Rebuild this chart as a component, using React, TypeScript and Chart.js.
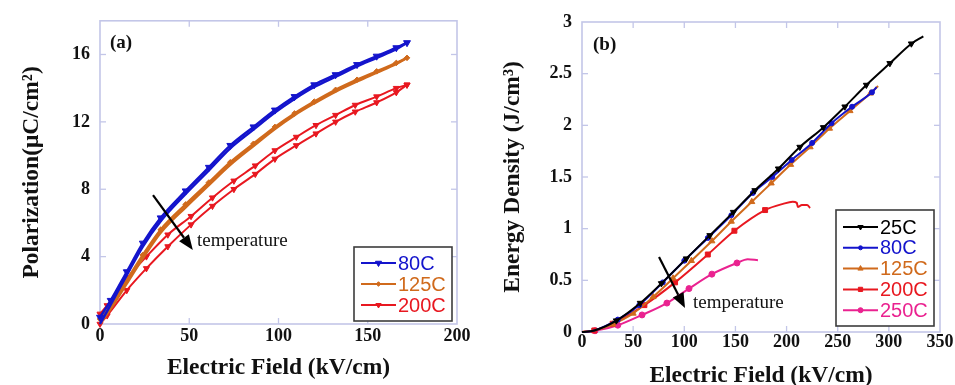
import React, { useEffect, useRef } from "react";
import { Chart, registerables } from "chart.js";
import { drawPoint } from "chart.js/helpers";

Chart.register(...registerables);

const SERIF = '"Liberation Serif", "Times New Roman", serif';
const SANS = '"Liberation Sans", Arial, sans-serif';
const FRAME = "#c3c6e8";

const BLUE = "#1414cc";
const ORANGE = "#d06a1c";
const RED = "#e81820";
const BLACK = "#000000";
const PINK = "#ea2290";

// ---------- Panel (a): Polarization vs Electric Field ----------
const A_X_TICKS = [0, 50, 100, 150, 200];
const A_Y_TICKS = [0, 4, 8, 12, 16];

const A80_E = [0, 6, 15, 24, 34, 48, 61, 73, 86, 98, 109, 120, 132, 144, 155, 166, 172];
const A80_UP = [0.4, 1.4, 3.1, 4.8, 6.3, 7.9, 9.3, 10.6, 11.7, 12.7, 13.5, 14.2, 14.8, 15.4, 15.9, 16.4, 16.7];
const A80_DOWN = [0.0, 1.15, 2.9, 4.6, 6.1, 7.72, 9.12, 10.43, 11.54, 12.55, 13.36, 14.07, 14.68, 15.29, 15.8, 16.32, 16.7];

const A125_E = [0, 6, 15, 24, 34, 48, 61, 73, 86, 98, 109, 120, 132, 144, 155, 166, 172];
const A125_UP = [0.3, 1.1, 2.6, 4.1, 5.6, 7.1, 8.4, 9.6, 10.7, 11.7, 12.5, 13.2, 13.9, 14.5, 15.0, 15.5, 15.8];
const A125_DOWN = [0.0, 0.9, 2.4, 3.9, 5.42, 6.93, 8.25, 9.45, 10.57, 11.58, 12.4, 13.1, 13.8, 14.4, 14.92, 15.44, 15.8];

const A200_E = [0, 4, 15, 26, 38, 51, 63, 75, 87, 98, 110, 121, 132, 143, 155, 166, 172];
const A200_UP = [0.6, 1.1, 2.7, 4.0, 5.3, 6.4, 7.5, 8.5, 9.4, 10.3, 11.1, 11.8, 12.4, 13.0, 13.5, 14.0, 14.2];
const A200_DOWN = [0.0, 0.5, 2.0, 3.3, 4.6, 5.9, 7.0, 8.0, 8.9, 9.8, 10.6, 11.3, 12.0, 12.6, 13.15, 13.75, 14.2];

// ---------- Panel (b): Energy Density vs Electric Field ----------
const B_X_TICKS = [0, 50, 100, 150, 200, 250, 300, 350];
const B_Y_TICKS = [0, 0.5, 1, 1.5, 2, 2.5, 3];

const B25_E = [0, 12, 33.6, 57, 77.6, 102, 125, 148, 169, 192, 213, 236, 257, 278, 301, 322, 333.7];
const B25_W = [0, 0.015, 0.11, 0.28, 0.47, 0.71, 0.935, 1.16, 1.37, 1.58, 1.79, 1.98, 2.18, 2.39, 2.6, 2.79, 2.86];

const B80_E = [0, 12, 35, 56, 79, 100, 123, 146, 167, 186, 205, 225, 244, 264, 283.5, 288];
const B80_W = [0, 0.015, 0.12, 0.26, 0.48, 0.69, 0.91, 1.13, 1.345, 1.5, 1.665, 1.83, 2.02, 2.18, 2.32, 2.37];

const B125_E = [0, 12, 30, 50, 69.5, 89, 107, 127, 146, 166, 185, 204, 223, 242, 262, 282, 289.5];
const B125_W = [0, 0.015, 0.075, 0.18, 0.34, 0.52, 0.69, 0.88, 1.07, 1.26, 1.44, 1.62, 1.79, 1.97, 2.14, 2.31, 2.38];

const B200_E = [0, 12, 30, 61, 91, 123, 149, 179];
const B200_W = [0, 0.015, 0.08, 0.26, 0.48, 0.75, 0.98, 1.18];
const B200_TAIL_E = [196.5, 206, 210, 211, 215, 220, 223];
const B200_TAIL_W = [1.24, 1.26, 1.25, 1.21, 1.23, 1.23, 1.2];

const B250_E = [0, 12.7, 35, 58.7, 83, 104.6, 127, 151.5];
const B250_W = [0, 0.012, 0.066, 0.165, 0.28, 0.42, 0.56, 0.668];
const B250_TAIL_E = [162, 172];
const B250_TAIL_W = [0.705, 0.695];

// ---------- helpers ----------
type Mk = { style: string; rot?: number; r: number };

function series(
  label: string,
  xs: number[],
  ys: number[],
  color: string,
  mk: Mk,
  lineWidth = 2,
  markerFlags?: boolean[]
) {
  return {
    label,
    data: xs.map((x, i) => ({ x, y: ys[i] })),
    showLine: true,
    borderColor: color,
    backgroundColor: color,
    borderWidth: lineWidth,
    cubicInterpolationMode: "monotone",
    pointStyle: mk.style,
    pointRotation: mk.rot || 0,
    pointRadius: markerFlags ? markerFlags.map((f) => (f ? mk.r : 0)) : mk.r,
    pointBackgroundColor: color,
    pointBorderColor: color,
    pointBorderWidth: 1,
    legendRadius: Math.max(2, mk.r - 0.5),
    clip: 6,
  };
}

const framePlugin = {
  id: "frame",
  beforeDatasetsDraw(chart: any) {
    const { ctx, chartArea, scales } = chart;
    const { left, right, top, bottom } = chartArea;
    ctx.save();
    ctx.strokeStyle = FRAME;
    ctx.lineWidth = 1.6;
    ctx.strokeRect(left, top, right - left, bottom - top);
    ctx.lineWidth = 1.3;
    const L = 6;
    const line = (x1: number, y1: number, x2: number, y2: number) => {
      ctx.beginPath();
      ctx.moveTo(x1, y1);
      ctx.lineTo(x2, y2);
      ctx.stroke();
    };
    scales.x.ticks.forEach((t: any) => {
      const px = scales.x.getPixelForValue(t.value);
      if (px <= left + 1 || px >= right - 1) return;
      line(px, bottom, px, bottom - L);
      line(px, top, px, top + L);
    });
    scales.y.ticks.forEach((t: any) => {
      const py = scales.y.getPixelForValue(t.value);
      if (py <= top + 1 || py >= bottom - 1) return;
      line(left, py, left + L, py);
      line(right, py, right - L, py);
    });
    ctx.restore();
  },
};

const legendPlugin = {
  id: "boxLegend",
  afterDraw(chart: any, _a: any, o: any) {
    const { ctx } = chart;
    const items = chart.data.datasets.filter((d: any) => d.label);
    ctx.save();
    ctx.fillStyle = "#ffffff";
    ctx.fillRect(o.x, o.y, o.w, o.h);
    ctx.strokeStyle = "#3c3c3c";
    ctx.lineWidth = 1.6;
    ctx.strokeRect(o.x, o.y, o.w, o.h);
    ctx.font = `20px ${SANS}`;
    ctx.textBaseline = "middle";
    ctx.textAlign = "left";
    items.forEach((d: any, i: number) => {
      const cy = o.y + o.first + i * o.row;
      const x1 = o.x + o.lineStart;
      const x2 = x1 + o.lineLen;
      ctx.strokeStyle = d.borderColor;
      ctx.lineWidth = 2;
      ctx.beginPath();
      ctx.moveTo(x1, cy);
      ctx.lineTo(x2, cy);
      ctx.stroke();
      ctx.fillStyle = d.borderColor;
      ctx.strokeStyle = d.borderColor;
      ctx.lineWidth = 1;
      drawPoint(
        ctx,
        { pointStyle: d.pointStyle, rotation: d.pointRotation, radius: d.legendRadius, borderWidth: 1 },
        (x1 + x2) / 2,
        cy
      );
      ctx.fillStyle = d.borderColor;
      ctx.fillText(d.label, x2 + 2, cy + 1);
    });
    ctx.restore();
  },
};

const annotPlugin = {
  id: "annot",
  afterDatasetsDraw(chart: any, _a: any, o: any) {
    const { ctx, scales } = chart;
    const px = (p: number[]) => [scales.x.getPixelForValue(p[0]), scales.y.getPixelForValue(p[1])];
    ctx.save();
    const [tx, ty] = px(o.tagAt);
    ctx.fillStyle = "#111";
    ctx.font = `bold 19px ${SERIF}`;
    ctx.textBaseline = "middle";
    ctx.textAlign = "left";
    ctx.fillText(o.tag, tx, ty);
    const [x1, y1] = px(o.arrowFrom);
    const [x2, y2] = px(o.arrowTo);
    const ang = Math.atan2(y2 - y1, x2 - x1);
    const hl = 15;
    const hw = 6;
    const bx = x2 - hl * Math.cos(ang);
    const by = y2 - hl * Math.sin(ang);
    ctx.strokeStyle = "#000";
    ctx.lineWidth = 2.2;
    ctx.beginPath();
    ctx.moveTo(x1, y1);
    ctx.lineTo(bx, by);
    ctx.stroke();
    ctx.fillStyle = "#000";
    ctx.beginPath();
    ctx.moveTo(x2, y2);
    ctx.lineTo(bx + hw * Math.sin(ang), by - hw * Math.cos(ang));
    ctx.lineTo(bx - hw * Math.sin(ang), by + hw * Math.cos(ang));
    ctx.closePath();
    ctx.fill();
    const [sx, sy] = px(o.textAt);
    ctx.font = `19px ${SERIF}`;
    ctx.fillStyle = "#111";
    ctx.fillText(o.text, sx, sy);
    ctx.restore();
  },
};

function axis(
  min: number,
  max: number,
  tickVals: number[],
  title: string,
  fit: (s: any) => void,
  tickPad: number,
  titlePad: any,
  titleSize: number
) {
  return {
    type: "linear",
    min,
    max,
    afterBuildTicks: (s: any) => {
      s.ticks = tickVals.map((v) => ({ value: v }));
    },
    ticks: {
      color: "#111",
      padding: tickPad,
      maxRotation: 0,
      autoSkip: false,
      font: { family: SERIF, size: 18, weight: "bold" },
      callback: (v: any) => String(v),
    },
    grid: { display: false, drawTicks: false },
    border: { display: false },
    title: {
      display: true,
      text: title,
      color: "#111",
      font: { family: SERIF, size: titleSize, weight: "bold" },
      padding: titlePad,
    },
    afterFit: fit,
  };
}

function configA(): any {
  return {
    type: "scatter",
    data: {
      datasets: [
        series("", A80_E, A80_DOWN, BLUE, { style: "triangle", rot: 180, r: 0 }, 2.5),
        series("80C", A80_E, A80_UP, BLUE, { style: "triangle", rot: 180, r: 4 }, 2.5),
        series("", A125_E, A125_DOWN, ORANGE, { style: "rectRot", r: 0 }, 2.5),
        series("125C", A125_E, A125_UP, ORANGE, { style: "rectRot", r: 2.8 }, 2.5),
        series("", A200_E, A200_DOWN, RED, { style: "triangle", rot: 180, r: 3.5 }, 2),
        series("200C", A200_E, A200_UP, RED, { style: "triangle", rot: 180, r: 3.5 }, 2),
      ],
    },
    options: {
      responsive: false,
      animation: false,
      events: [],
      layout: { padding: { left: 0, top: 17, right: 23, bottom: 0 } },
      scales: {
        x: axis(0, 200, A_X_TICKS, "Electric Field (kV/cm)", (s) => { s.height = 61; }, 2, { top: 0, bottom: 3 }, 23.5),
        y: axis(0, 18, A_Y_TICKS, "Polarization(\u03bcC/cm\u00b2)", (s) => { s.width = 100; }, 10, { top: 18, bottom: 0 }, 23.5),
      },
      plugins: {
        legend: { display: false },
        tooltip: { enabled: false },
        boxLegend: { x: 354, y: 247, w: 98, h: 74, first: 16, row: 21, lineStart: 7, lineLen: 35 },
        annot: {
          tag: "(a)",
          tagAt: [5.6, 16.7],
          arrowFrom: [29.7, 7.65],
          arrowTo: [52, 4.4],
          text: "temperature",
          textAt: [54.3, 4.9],
        },
      },
    },
    plugins: [framePlugin, annotPlugin, legendPlugin],
  };
}

function configB(): any {
  const flags = (main: number[], tail: number[]) =>
    main.map((_, i) => i > 0).concat(tail.map(() => false));
  const inner = (xs: number[]) => xs.map((_, i) => i > 1 && i < xs.length - 1);
  return {
    type: "scatter",
    data: {
      datasets: [
        series("25C", B25_E, B25_W, BLACK, { style: "triangle", rot: 180, r: 3.5 }, 2, inner(B25_E)),
        series("80C", B80_E, B80_W, BLUE, { style: "circle", r: 2.5 }, 2, inner(B80_E)),
        series("125C", B125_E, B125_W, ORANGE, { style: "triangle", r: 3.5 }, 2, inner(B125_E)),
        series("200C", B200_E.concat(B200_TAIL_E), B200_W.concat(B200_TAIL_W), RED, { style: "rect", r: 3.5 }, 2, flags(B200_E, B200_TAIL_E)),
        series("250C", B250_E.concat(B250_TAIL_E), B250_W.concat(B250_TAIL_W), PINK, { style: "circle", r: 3 }, 2, flags(B250_E, B250_TAIL_E)),
      ],
    },
    options: {
      responsive: false,
      animation: false,
      events: [],
      layout: { padding: { left: 0, top: 22, right: 15, bottom: 0 } },
      scales: {
        x: axis(0, 350, B_X_TICKS, "Electric Field (kV/cm)", (s) => { s.height = 53; }, 0, { top: 0, bottom: -5 }, 23.5),
        y: axis(0, 3, B_Y_TICKS, "Energy Density (J/cm\u00b3)", (s) => { s.width = 102; }, 10, { top: 19, bottom: 0 }, 23.5),
      },
      plugins: {
        legend: { display: false },
        tooltip: { enabled: false },
        boxLegend: { x: 356, y: 210, w: 98, h: 116, first: 17, row: 20.8, lineStart: 7, lineLen: 35 },
        annot: {
          tag: "(b)",
          tagAt: [10.8, 2.78],
          arrowFrom: [75.3, 0.726],
          arrowTo: [100.7, 0.232],
          text: "temperature",
          textAt: [108.5, 0.28],
        },
      },
    },
    plugins: [framePlugin, annotPlugin, legendPlugin],
  };
}

export default function App() {
  const leftRef = useRef<HTMLCanvasElement>(null);
  const rightRef = useRef<HTMLCanvasElement>(null);
  useEffect(() => {
    const a = new Chart(leftRef.current as HTMLCanvasElement, configA());
    const b = new Chart(rightRef.current as HTMLCanvasElement, configB());
    return () => {
      a.destroy();
      b.destroy();
    };
  }, []);
  return (
    <div style={{ position: "absolute", left: 0, top: 0, width: 955, height: 385, background: "#fff", overflow: "hidden" }}>
      <canvas ref={leftRef} width={480} height={385} style={{ position: "absolute", left: 0, top: 0, width: 480, height: 385 }} />
      <canvas ref={rightRef} width={475} height={385} style={{ position: "absolute", left: 480, top: 0, width: 475, height: 385 }} />
    </div>
  );
}
